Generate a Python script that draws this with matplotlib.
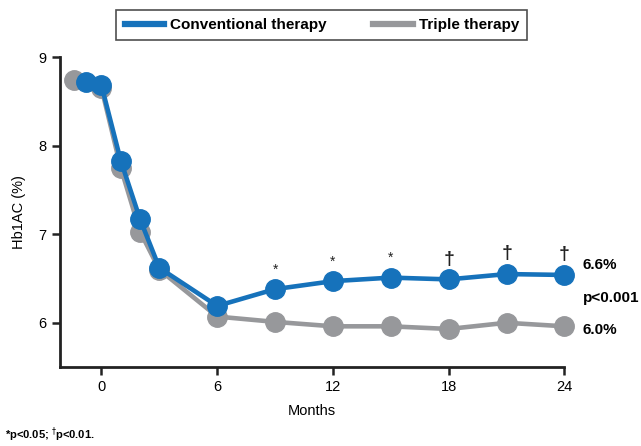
import matplotlib
matplotlib.use("Agg")
import matplotlib.pyplot as plt
from matplotlib.lines import Line2D

plt.rcParams['font.family'] = ['Liberation Sans', 'DejaVu Sans']

# data
conv_months = [-0.8, 0, 1, 2, 3, 6, 9, 12, 15, 18, 21, 24]
conv_hba1c = [8.72, 8.68, 7.83, 7.17, 6.62, 6.19, 6.38, 6.47, 6.51, 6.49, 6.55, 6.54]
triple_months = [-1.4, 0, 1, 2, 3, 6, 9, 12, 15, 18, 21, 24]
triple_hba1c = [8.74, 8.65, 7.75, 7.03, 6.60, 6.07, 6.01, 5.96, 5.96, 5.93, 6.00, 5.96]

# significance marks above conventional therapy points
sig_months = [9, 12, 15, 18, 21, 24]
sig_marks = ['*', '*', '*', '†', '†', '†']

x_ticks = [0, 6, 12, 18, 24]
y_ticks = [6, 7, 8, 9]

blue = '#1672bb'
gray = '#97989b'

fig = plt.figure(figsize=(6.41, 4.46), dpi=100)
ax = fig.add_axes([0.0936, 0.177, 0.787, 0.695])

ax.plot(triple_months, triple_hba1c, color=gray, lw=3.3, marker='o', ms=14,
        label='Triple therapy', zorder=2, clip_on=False)
ax.plot(conv_months, conv_hba1c, color=blue, lw=3.3, marker='o', ms=14,
        label='Conventional therapy', zorder=3, clip_on=False)

# significance marks
for m, s in zip(sig_months, sig_marks):
    v = conv_hba1c[conv_months.index(m)]
    if s == '*':
        ax.annotate(s, (m, v), xytext=(0, 9), textcoords='offset points',
                    ha='center', va='bottom', fontsize=10, color='#222222')
    else:
        ax.annotate(s, (m, v), xytext=(0, 8.5), textcoords='offset points',
                    ha='center', va='bottom', fontsize=14, fontweight='bold',
                    color='#222222')

# end labels
ax.text(1.036, 0.329, '6.6%', transform=ax.transAxes, fontsize=11,
        fontweight='bold', va='center', ha='left')
ax.text(1.036, 0.223, 'p<0.001', transform=ax.transAxes, fontsize=11,
        fontweight='bold', va='center', ha='left')
ax.text(1.036, 0.119, '6.0%', transform=ax.transAxes, fontsize=11,
        fontweight='bold', va='center', ha='left')

ax.set_xlim(-2.15, 24)
ax.set_ylim(5.5, 9)
ax.set_xticks(x_ticks)
ax.set_yticks(y_ticks)
ax.tick_params(axis='both', labelsize=10.5, width=1.8, length=6, color='#222222')
ax.spines['top'].set_visible(False)
ax.spines['right'].set_visible(False)
for sp in ['left', 'bottom']:
    ax.spines[sp].set_linewidth(2)
    ax.spines[sp].set_color('#222222')

ax.set_xlabel('Months', fontsize=10.5, labelpad=7)
ax.set_ylabel('Hb1AC (%)', fontsize=10.5, labelpad=9)

# legend with lines only
handles = [Line2D([], [], color=blue, lw=4.5), Line2D([], [], color=gray, lw=4.5)]
leg = fig.legend(handles, ['Conventional therapy', 'Triple therapy'],
                 loc='center', bbox_to_anchor=(0.502, 0.944), ncol=2,
                 frameon=True, fancybox=False, edgecolor='#222222',
                 prop={'weight': 'bold', 'size': 11}, handlelength=2.6,
                 handletextpad=0.4, columnspacing=3.0, borderpad=0.55)
leg.get_frame().set_linewidth(1.2)

fig.text(0.008, 0.025, r'*p<0.05; $^{\dagger}$p<0.01.', fontsize=8,
         fontweight='bold', ha='left', va='center')

fig.savefig('out.png', dpi=100)
